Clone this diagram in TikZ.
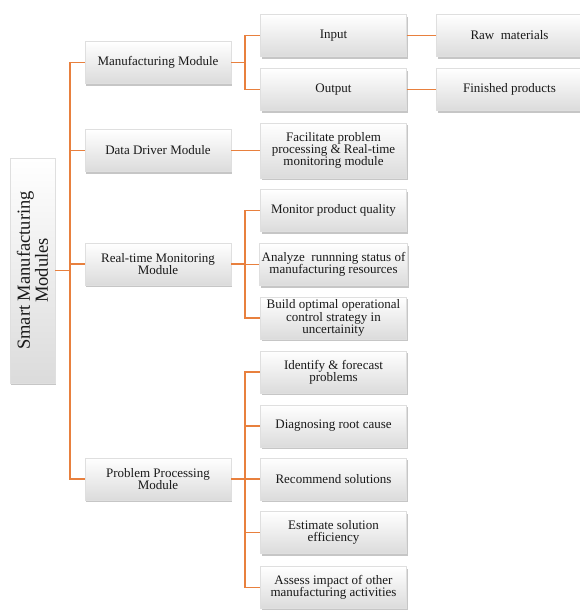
\documentclass[tikz,border=0pt]{standalone}
\usepackage{fontspec}
\setmainfont{Liberation Serif}
\usetikzlibrary{shadows}
\definecolor{linkorange}{HTML}{E8803E}
\begin{document}
\begin{tikzpicture}[x=1pt, y=-1pt,
		box/.style={draw=gray!25, line width=0.4pt, top color=white, bottom color=gray!28,
			drop shadow={shadow xshift=1.2pt, shadow yshift=-2.2pt, opacity=0.45},
			minimum width=146pt, minimum height=42pt, inner sep=2pt, align=center,
			text=black!90, font=\fontsize{13}{12.3}\selectfont},
		rootbox/.style={box, rotate=90, minimum width=225pt, minimum height=45pt,
			font=\fontsize{18.5}{18}\selectfont},
		link/.style={draw=linkorange, line width=1.8pt}
		]
	\useasboundingbox (0,0) rectangle (580,610);
	% root
	\node [rootbox] (root) at (32.5,270.5) {Smart Manufacturing\\Modules};
	% modules
	\node [box] (mfg) at (158,62.5) {Manufacturing Module};
	\node [box] (data) at (158,150.5) {Data Driver Module};
	\node [box] (rt) at (158,264) {Real-time Monitoring\\Module};
	\node [box] (pp) at (158,479) {Problem Processing\\Module};
	% functions
	\node [box] (input) at (333.5,35.5) {Input};
	\node [box] (output) at (333.5,89.5) {Output};
	\node [box, minimum height=55pt] (fac) at (333.5,150.5) {Facilitate problem\\processing \& Real-time\\monitoring module};
	\node [box] (monitor) at (333.5,210.5) {Monitor product quality};
	\node [box] (analyze) at (333.5,264.5) {Analyze\ \ runnning status of\\manufacturing resources};
	\node [box] (build) at (333.5,318) {Build optimal operational\\control strategy in\\uncertainity};
	\node [box] (identify) at (333.5,372) {Identify \& forecast\\problems};
	\node [box] (diag) at (333.5,426) {Diagnosing root cause};
	\node [box] (recommend) at (333.5,479) {Recommend solutions};
	\node [box] (estimate) at (333.5,532.5) {Estimate solution\\efficiency};
	\node [box] (assess) at (333.5,587.5) {Assess impact of other\\manufacturing activities};
	% products
	\node [box] (raw) at (509.5,35.5) {Raw\ \ materials};
	\node [box] (finished) at (509.5,89.5) {Finished products};
	% connectors
	\foreach \c in {mfg,data,rt,pp}
		\draw [link] (root.south) -- ++(15,0) |- (\c.west);
	\foreach \c in {input,output}
		\draw [link] (mfg.east) -- ++(14,0) |- (\c.west);
	\draw [link] (data.east) -- (fac.west);
	\foreach \c in {monitor,analyze,build}
		\draw [link] (rt.east) -- ++(14,0) |- (\c.west);
	\foreach \c in {identify,diag,recommend,estimate,assess}
		\draw [link] (pp.east) -- ++(14,0) |- (\c.west);
	\draw [link] (input.east) -- (raw.west);
	\draw [link] (output.east) -- (finished.west);
\end{tikzpicture}
\end{document}
